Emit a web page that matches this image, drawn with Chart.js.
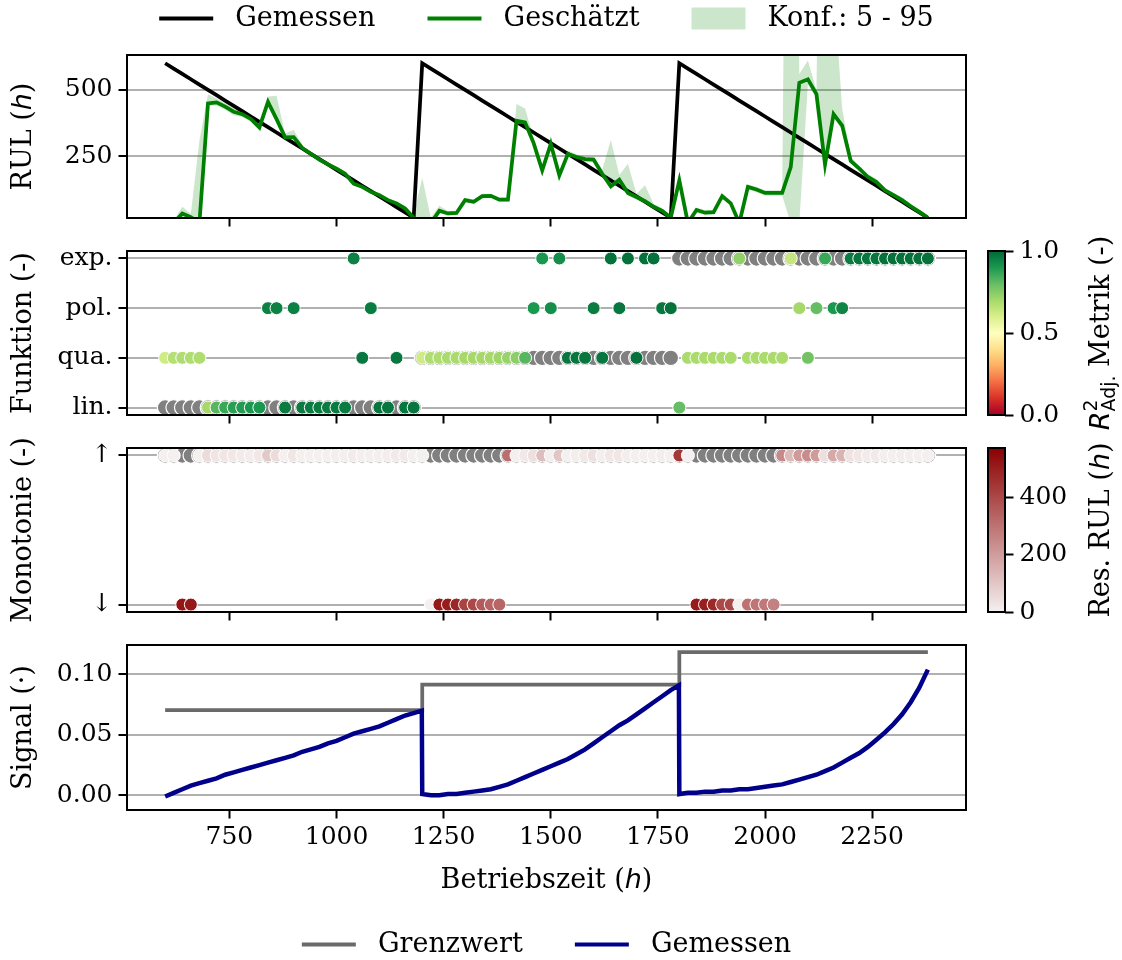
<!DOCTYPE html>
<html>
<head>
<meta charset="utf-8">
<script src="https://cdn.jsdelivr.net/npm/chart.js@4.4.1/dist/chart.umd.min.js"></script>
<style>
  html, body { margin: 0; padding: 0; background: #fff; overflow: hidden; }
  #page { position: relative; width: 1122px; height: 960px; }
  canvas { position: absolute; }
</style>
</head>
<body>
<div id="page">
  <canvas id="rulChart" width="1122" height="290" style="left:0;top:-47px"></canvas>
  <canvas id="funcChart" width="1122" height="214" style="left:0;top:226px"></canvas>
  <canvas id="funcBar" width="162" height="214" style="left:960px;top:226px"></canvas>
  <canvas id="monoChart" width="1122" height="214" style="left:0;top:423px"></canvas>
  <canvas id="monoBar" width="162" height="214" style="left:960px;top:423px"></canvas>
  <canvas id="signalChart" width="1122" height="348" style="left:0;top:620px"></canvas>
</div>
<script>
// operating hours of every evaluation step (three run-to-failure cycles)
const hours = [
  600, 620, 640, 660, 680, 700, 720, 740, 760, 780, 800, 820, 840, 860, 880, 900, 920, 940, 960, 980, 1000, 1020, 1040, 1060, 1080, 1100, 1120, 1140, 1160, 1180,
  1200, 1220, 1240, 1260, 1280, 1300, 1320, 1340, 1360, 1380, 1400, 1420, 1440, 1460, 1480, 1500, 1520, 1540, 1560, 1580, 1600, 1620, 1640, 1660, 1680, 1700, 1720, 1740, 1760, 1780,
  1800, 1820, 1840, 1860, 1880, 1900, 1920, 1940, 1960, 1980, 2000, 2020, 2040, 2060, 2080, 2100, 2120, 2140, 2160, 2180, 2200, 2220, 2240, 2260, 2280, 2300, 2320, 2340, 2360, 2380
];

// RUL (h)
const rulMeasured = [
  600, 580, 560, 540, 520, 500, 480, 460, 440, 420, 400, 380, 360, 340, 320, 300, 280, 260, 240, 220, 200, 180, 160, 140, 120, 100, 80, 60, 40, 20,
  600, 580, 560, 540, 520, 500, 480, 460, 440, 420, 400, 380, 360, 340, 320, 300, 280, 260, 240, 220, 200, 180, 160, 140, 120, 100, 80, 60, 40, 20,
  600, 580, 560, 540, 520, 500, 480, 460, 440, 420, 400, 380, 360, 340, 320, 300, 280, 260, 240, 220, 200, 180, 160, 140, 120, 100, 80, 60, 40, 20
];
const rulEstimated = [
  0, 0, 36, 22, 0, 449, 453, 437, 418, 409, 391, 359, 455, 390, 322, 323, 282, 260, 238, 220, 204, 185, 148, 136, 117, 105, 86, 74, 55, 20,
  0, 0, 46, 36, 38, 86, 80, 101, 102, 88, 88, 384, 378, 300, 198, 297, 179, 260, 248, 240, 238, 185, 138, 163, 113, 98, 82, 61, 46, 20,
  160, 0, 49, 39, 41, 101, 74, 0, 136, 126, 113, 113, 113, 210, 527, 540, 484, 220, 409, 366, 233, 204, 173, 154, 123, 105, 86, 63, 42, 20
];
const confLow = [
  0, 0, 20, 10, 0, 440, 440, 425, 405, 398, 380, 350, 440, 385, 315, 315, 275, 252, 230, 212, 196, 177, 140, 128, 109, 97, 78, 66, 47, 12,
  0, 0, 36, 28, 30, 78, 72, 93, 94, 80, 80, 374, 362, 285, 185, 285, 170, 250, 238, 228, 228, 175, 128, 150, 103, 88, 72, 52, 36, 10,
  140, 0, 40, 30, 32, 92, 65, 0, 126, 116, 103, 103, 103, 0, 0, 520, 470, 210, 395, 350, 225, 195, 164, 145, 114, 96, 77, 54, 33, 10
];
const confHigh = [
  0, 10, 61, 35, 310, 484, 468, 450, 430, 420, 402, 372, 475, 478, 335, 350, 292, 268, 246, 228, 212, 193, 156, 144, 125, 113, 94, 82, 63, 28,
  170, 20, 65, 45, 46, 95, 88, 110, 110, 96, 96, 447, 430, 320, 210, 328, 190, 272, 258, 248, 248, 200, 312, 180, 223, 110, 142, 72, 56, 30,
  180, 15, 58, 48, 50, 112, 84, 15, 146, 136, 123, 123, 123, 3500, 560, 610, 500, 2860, 900, 430, 250, 215, 184, 165, 132, 114, 95, 72, 51, 30
];
const rulTicks = [250, 500];

// fitted function per step: 0 lin., 1 qua., 2 pol., 3 exp.
const funcNames = ["lin.", "qua.", "pol.", "exp."];
const funcTrue = [
  0, 0, 0, 0, 0, 0, 0, 0, 0, 0, 0, 0, 0, 0, 0, 0, 0, 0, 0, 0, 0, 0, 0, 0, 0, 0, 0, 0, 0, 0,
  1, 1, 1, 1, 1, 1, 1, 1, 1, 1, 1, 1, 1, 1, 1, 1, 1, 1, 1, 1, 1, 1, 1, 1, 1, 1, 1, 1, 1, 1,
  3, 3, 3, 3, 3, 3, 3, 3, 3, 3, 3, 3, 3, 3, 3, 3, 3, 3, 3, 3, 3, 3, 3, 3, 3, 3, 3, 3, 3, 3
];
const funcEst = [
  1, 1, 1, 1, 1, 0, 0, 0, 0, 0, 0, 0, 2, 2, 0, 2, 0, 0, 0, 0, 0, 0, 3, 1, 2, 0, 0, 1, 0, 0,
  1, 1, 1, 1, 1, 1, 1, 1, 1, 1, 1, 1, 1, 2, 3, 2, 3, 1, 1, 1, 2, 1, 3, 2, 3, 1, 3, 3, 2, 2,
  0, 1, 1, 1, 1, 1, 1, 3, 1, 1, 1, 1, 1, 3, 2, 1, 2, 3, 2, 2, 3, 3, 3, 3, 3, 3, 3, 3, 3, 3
];
// adjusted R² of the chosen fit
const fitScore = [
  0.62, 0.67, 0.68, 0.68, 0.68, 0.70, 0.82, 0.86, 0.88, 0.89, 0.90, 0.90, 0.95, 0.95, 0.96, 0.95, 0.96, 0.96, 0.96, 0.96, 0.96, 0.96, 0.95, 0.97, 0.96, 0.97, 0.97, 0.97, 0.97, 0.97,
  0.62, 0.68, 0.68, 0.69, 0.69, 0.70, 0.70, 0.70, 0.70, 0.71, 0.72, 0.74, 0.82, 0.90, 0.90, 0.92, 0.92, 0.97, 0.97, 0.97, 0.96, 0.97, 0.98, 0.97, 0.98, 0.98, 0.98, 0.98, 0.97, 0.98,
  0.80, 0.69, 0.69, 0.69, 0.69, 0.69, 0.69, 0.73, 0.69, 0.69, 0.69, 0.69, 0.69, 0.64, 0.70, 0.78, 0.80, 0.86, 0.90, 0.94, 0.96, 0.97, 0.97, 0.97, 0.98, 0.98, 0.98, 0.98, 0.98, 0.98
];

// monotonicity: 1 rising, 0 falling
const monoNames = ["\u2193", "\u2191"];
const monoTrue = [
  1, 1, 1, 1, 1, 1, 1, 1, 1, 1, 1, 1, 1, 1, 1, 1, 1, 1, 1, 1, 1, 1, 1, 1, 1, 1, 1, 1, 1, 1,
  1, 1, 1, 1, 1, 1, 1, 1, 1, 1, 1, 1, 1, 1, 1, 1, 1, 1, 1, 1, 1, 1, 1, 1, 1, 1, 1, 1, 1, 1,
  1, 1, 1, 1, 1, 1, 1, 1, 1, 1, 1, 1, 1, 1, 1, 1, 1, 1, 1, 1, 1, 1, 1, 1, 1, 1, 1, 1, 1, 1
];
const monoEst = [
  1, 1, 0, 0, 1, 1, 1, 1, 1, 1, 1, 1, 1, 1, 1, 1, 1, 1, 1, 1, 1, 1, 1, 1, 1, 1, 1, 1, 1, 1,
  1, 0, 0, 0, 0, 0, 0, 0, 0, 0, 1, 1, 1, 1, 1, 1, 1, 1, 1, 1, 1, 1, 1, 1, 1, 1, 1, 1, 1, 1,
  1, 1, 0, 0, 0, 0, 0, 0, 0, 0, 0, 0, 1, 1, 1, 1, 1, 1, 1, 1, 1, 1, 1, 1, 1, 1, 1, 1, 1, 1
];
const resMax = 575;
const resTicks = [0, 200, 400];
const scoreTicks = [0, 0.5, 1];

// condition signal and failure thresholds
const signalHours = [
  600, 620, 640, 660, 680, 700, 720, 740, 760, 780, 800, 820, 840, 860, 880, 900, 920, 940, 960, 980, 1000, 1020, 1040, 1060, 1080, 1100, 1120, 1140, 1160, 1180, 1199,
  1200, 1220, 1240, 1260, 1280, 1300, 1320, 1340, 1360, 1380, 1400, 1420, 1440, 1460, 1480, 1500, 1520, 1540, 1560, 1580, 1600, 1620, 1640, 1660, 1680, 1700, 1720, 1740, 1760, 1780, 1799,
  1800, 1820, 1840, 1860, 1880, 1900, 1920, 1940, 1960, 1980, 2000, 2020, 2040, 2060, 2080, 2100, 2120, 2140, 2160, 2180, 2200, 2220, 2240, 2260, 2280, 2300, 2320, 2340, 2360, 2380
];
const signalValues = [
  -0.001, 0.002, 0.005, 0.008, 0.010, 0.012, 0.014, 0.017, 0.019, 0.021, 0.023, 0.025, 0.027, 0.029, 0.031, 0.033, 0.036, 0.038, 0.040, 0.043, 0.045, 0.048, 0.051, 0.053, 0.055, 0.057, 0.060, 0.063, 0.066, 0.068, 0.070,
  0.001, 0.000, 0.000, 0.001, 0.001, 0.002, 0.003, 0.004, 0.005, 0.007, 0.009, 0.012, 0.015, 0.018, 0.021, 0.024, 0.027, 0.030, 0.034, 0.038, 0.043, 0.048, 0.053, 0.058, 0.062, 0.067, 0.072, 0.077, 0.082, 0.087, 0.091,
  0.001, 0.002, 0.002, 0.003, 0.003, 0.004, 0.004, 0.005, 0.005, 0.006, 0.007, 0.008, 0.009, 0.011, 0.013, 0.015, 0.017, 0.020, 0.023, 0.027, 0.031, 0.035, 0.040, 0.046, 0.052, 0.059, 0.067, 0.077, 0.089, 0.104
];
const limitHours = [600, 1200, 1800, 2380];
const limitValues = [0.0705, 0.0915, 0.1185, 0.1185];
const signalTicks = [0, 0.05, 0.1];
const hourTicks = [750, 1000, 1250, 1500, 1750, 2000, 2250];

const SERIF = "DejaVu Serif";
const FS = 25;      // tick labels
const LFS = 27;     // axis titles and legends
const GREEN = "#008000";
const BAND = "rgba(0,128,0,0.2)";
const NAVY = "#00008b";
const LIMIT = "#6a6a6a";
const GRAY = "#808080";
const RDYLGN = ["#a50026", "#d73027", "#f46d43", "#fdae61", "#fee08b", "#ffffbf", "#d9ef8b", "#a6d96a", "#66bd63", "#1a9850", "#006837"];
const RESCMAP = ["#f5f0f0", "#8b0000"];

Chart.defaults.font.family = SERIF;
Chart.defaults.font.size = FS;
Chart.defaults.color = "#000";

function hex(c) {
  return [1, 3, 5].map(i => parseInt(c.slice(i, i + 2), 16));
}
function cmap(stops, v) {
  v = Math.min(1, Math.max(0, v));
  const p = v * (stops.length - 1);
  const i = Math.min(stops.length - 2, Math.floor(p));
  const a = hex(stops[i]), b = hex(stops[i + 1]);
  const t = p - i;
  return "rgb(" + a.map((c, k) => Math.round(c + (b[k] - c) * t)).join(",") + ")";
}
const pts = (xs, ys) => xs.map((x, i) => ({ x, y: ys[i] }));

// box around each plot area
const frame = {
  id: "frame",
  afterDatasetsDraw(chart) {
    const { ctx, chartArea: a } = chart;
    ctx.save();
    ctx.strokeStyle = "#000";
    ctx.lineWidth = 2;
    ctx.strokeRect(a.left, a.top, a.right - a.left, a.bottom - a.top);
    ctx.restore();
  }
};

// axis titles with italic / sub- and superscript parts
function drawRich(ctx, runs, x, y, vertical) {
  ctx.save();
  ctx.translate(x, y);
  if (vertical) ctx.rotate(-Math.PI / 2);
  let total = 0;
  runs.forEach(r => { ctx.font = r.font; if (!r.stack) total += ctx.measureText(r.text).width; });
  let cx = -total / 2;
  ctx.fillStyle = "#000";
  ctx.textBaseline = "alphabetic";
  runs.forEach(r => {
    ctx.font = r.font;
    ctx.fillText(r.text, cx, 9 + (r.dy || 0));
    if (!r.stack) cx += ctx.measureText(r.text).width;
  });
  ctx.restore();
}
function titles(items) {
  return {
    id: "titles",
    afterDraw(chart) {
      const a = chart.chartArea;
      items.forEach(it => {
        const p = it.at(a);
        drawRich(chart.ctx, it.runs, p[0], p[1], it.vertical);
      });
    }
  };
}
const serif = `${LFS}px "${SERIF}"`;
const mathIt = `italic ${LFS}px "DejaVu Sans"`;
const mathSmall = `${LFS * 0.7}px "DejaVu Sans"`;
const plain = s => [{ text: s, font: serif }];
const withH = s => [{ text: s + "(", font: serif }, { text: "h", font: mathIt }, { text: ")", font: serif }];
const yTitle = runs => ({ runs, vertical: true, at: a => [22, (a.top + a.bottom) / 2] });

function xAxis(height, labels) {
  return {
    type: "linear", min: 511, max: 2469,
    afterBuildTicks: s => { s.ticks = hourTicks.map(v => ({ value: v })); },
    afterFit: s => { s.height = height; },
    grid: { drawOnChartArea: false, tickLength: 8.5, tickWidth: 2, tickColor: "#000" },
    border: { display: false },
    ticks: { display: labels, padding: 4, callback: v => String(v) }
  };
}
function yAxis(min, max, ticks, fmt) {
  return {
    type: "linear", min, max,
    afterBuildTicks: s => { s.ticks = ticks.map(v => ({ value: v })); },
    afterFit: s => { s.width = 127; },
    grid: { color: "#b0b0b0", lineWidth: 2, tickLength: 8.5, tickWidth: 2, tickColor: "#000" },
    border: { display: false },
    ticks: { padding: 6, callback: fmt }
  };
}
// empty right-hand axis that keeps the plot width while a legend spans the canvas
const spacerAxis = {
  type: "linear", position: "right", display: true,
  afterFit: s => { s.width = 127; },
  grid: { display: false }, border: { display: false }, ticks: { display: false }
};
function baseOptions(x, y, padding) {
  return {
    responsive: false, animation: false, events: [], devicePixelRatio: 1,
    layout: { padding },
    plugins: { legend: { display: false }, tooltip: { enabled: false }, title: { display: false } },
    scales: { x, y }
  };
}
function legendOf(items, extra) {
  return Object.assign({
    display: true, fullSize: true,
    labels: {
      usePointStyle: true, pointStyleWidth: 54, boxHeight: 22, padding: 52,
      font: { size: LFS },
      generateLabels: () => items.map(it => Object.assign({ hidden: false, fontColor: "#000", lineWidth: 4 }, it))
    }
  }, extra);
}

// RUL panel
const rulOpts = baseOptions(xAxis(25, false), yAxis(19, 631, rulTicks, v => String(v)), { left: 0, right: 29, top: 0, bottom: 0 });
rulOpts.scales.y2 = spacerAxis;
rulOpts.plugins.legend = legendOf([
  { text: " Gemessen", strokeStyle: "#000", fillStyle: "#000", pointStyle: "line" },
  { text: " Geschätzt", strokeStyle: GREEN, fillStyle: GREEN, pointStyle: "line" },
  { text: " Konf.: 5 - 95", strokeStyle: "rgba(0,0,0,0)", fillStyle: BAND, lineWidth: 0, pointStyle: "rect" }
], { position: "top", weight: 3000 });
rulOpts.plugins.title = { display: true, text: "", padding: { top: 3, bottom: 0 }, font: { size: 10, lineHeight: 1 } };
new Chart(document.getElementById("rulChart"), {
  type: "line",
  data: {
    datasets: [
      { label: "Geschätzt", data: pts(hours, rulEstimated), borderColor: GREEN, borderWidth: 3.75, pointRadius: 0, clip: 0, order: 0 },
      { label: "Gemessen", data: pts(hours, rulMeasured), borderColor: "#000", borderWidth: 3.75, pointRadius: 0, clip: 0, order: 1 },
      { label: "Konf. low", data: pts(hours, confLow), borderColor: "rgba(0,0,0,0)", borderWidth: 0, pointRadius: 0, clip: 0, order: 3 },
      { label: "Konf.: 5 - 95", data: pts(hours, confHigh), borderColor: "rgba(0,0,0,0)", borderWidth: 0, backgroundColor: BAND, fill: 2, pointRadius: 0, clip: 0, order: 2 }
    ]
  },
  options: rulOpts,
  plugins: [frame, titles([yTitle(withH("RUL "))])]
});

// scatter panels: gray = true class, coloured = estimate
function scatterChart(id, trueRows, estRows, colors, yMin, yMax, ticks, names, title) {
  new Chart(document.getElementById(id), {
    type: "scatter",
    data: {
      datasets: [
        { data: pts(hours, estRows), pointBackgroundColor: colors, pointBorderColor: "#fff", pointBorderWidth: 1, pointRadius: 6.5, order: 0 },
        { data: pts(hours, trueRows), pointBackgroundColor: GRAY, pointBorderColor: "#fff", pointBorderWidth: 1.2, pointRadius: 7.8, order: 1 }
      ]
    },
    options: baseOptions(xAxis(25, false), yAxis(yMin, yMax, ticks, v => names[v]), { left: 0, right: 156, top: 25, bottom: 0 }),
    plugins: [frame, titles([yTitle(title)])]
  });
}
scatterChart("funcChart", funcTrue, funcEst, fitScore.map(v => cmap(RDYLGN, v)), -0.15, 3.15, [0, 1, 2, 3], funcNames, plain("Funktion (-)"));

const residual = rulEstimated.map((e, i) => (e > 0 ? Math.abs(e - rulMeasured[i]) : 0));
scatterChart("monoChart", monoTrue, monoEst, residual.map(v => cmap(RESCMAP, v / resMax)), -0.05, 1.05, [0, 1], monoNames, plain("Monotonie (-)"));

// colour bars
function colorBar(id, stops, max, ticks, fmt, title) {
  new Chart(document.getElementById(id), {
    type: "bar",
    data: {
      labels: [""],
      datasets: [{
        data: [[0, max]], barPercentage: 1, categoryPercentage: 1, borderWidth: 0,
        backgroundColor: c => {
          const a = c.chart.chartArea;
          if (!a) return null;
          const g = c.chart.ctx.createLinearGradient(0, a.bottom, 0, a.top);
          stops.forEach((s, i) => g.addColorStop(i / (stops.length - 1), s));
          return g;
        }
      }]
    },
    options: {
      responsive: false, animation: false, events: [], devicePixelRatio: 1,
      layout: { padding: { left: 28, right: 0, top: 25, bottom: 25 } },
      plugins: { legend: { display: false }, tooltip: { enabled: false } },
      scales: {
        x: { display: false },
        y: {
          position: "right", min: 0, max,
          afterBuildTicks: s => { s.ticks = ticks.map(v => ({ value: v })); },
          afterFit: s => { s.width = 117; },
          grid: { drawOnChartArea: false, tickLength: 8.5, tickWidth: 2, tickColor: "#000" },
          border: { display: false },
          ticks: { padding: 6, callback: fmt }
        }
      }
    },
    plugins: [frame, titles([{ runs: title, vertical: true, at: a => [140, (a.top + a.bottom) / 2] }])]
  });
}
colorBar("funcBar", RDYLGN, 1, scoreTicks, v => v.toFixed(1), [
  { text: "R", font: mathIt },
  { text: "2", font: mathSmall, dy: -12, stack: true },
  { text: "Adj.", font: mathSmall, dy: 6 },
  { text: " Metrik (-)", font: serif }
]);
colorBar("monoBar", RESCMAP, resMax, resTicks, v => String(v), withH("Res. RUL "));

// signal panel
const sigOpts = baseOptions(xAxis(69, true), yAxis(-0.0122, 0.1244, signalTicks, v => v.toFixed(2)), { left: 0, right: 29, top: 25, bottom: 0 });
sigOpts.scales.y2 = spacerAxis;
sigOpts.plugins.legend = legendOf([
  { text: " Grenzwert", strokeStyle: LIMIT, fillStyle: LIMIT, pointStyle: "line" },
  { text: " Gemessen", strokeStyle: NAVY, fillStyle: NAVY, pointStyle: "line" }
], { position: "bottom" });
new Chart(document.getElementById("signalChart"), {
  type: "line",
  data: {
    datasets: [
      { label: "Gemessen", data: pts(signalHours, signalValues), borderColor: NAVY, borderWidth: 4.5, pointRadius: 0, order: 0 },
      { label: "Grenzwert", data: pts(limitHours, limitValues), borderColor: LIMIT, borderWidth: 3.75, stepped: "before", pointRadius: 0, order: 1 }
    ]
  },
  options: sigOpts,
  plugins: [frame, titles([
    yTitle(plain("Signal (\u00b7)")),
    { runs: withH("Betriebszeit "), vertical: false, at: a => [(a.left + a.right) / 2, a.bottom + 69] }
  ])]
});
</script>
</body>
</html>
